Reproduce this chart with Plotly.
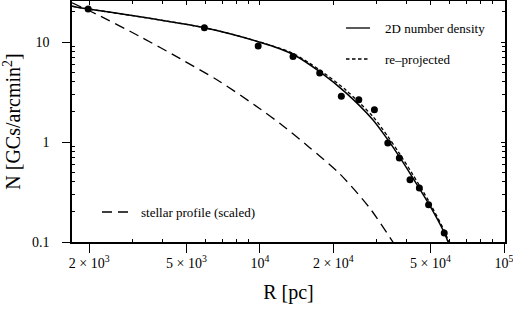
import plotly.graph_objects as go
import numpy as np

# ---- data ----
# globular-cluster counts (points)
gc_R = [1980, 5925, 9840, 13670, 17580, 21560, 25420, 29450, 33420, 37250, 41200, 45000, 49100, 56900]
gc_N = [21.4, 13.9, 9.12, 7.18, 4.9, 2.86, 2.65, 2.10, 0.977, 0.69, 0.42, 0.347, 0.236, 0.123]

# 2D number density fit (solid)
fit_R = [1701, 1980, 2948, 4293, 5925, 7544, 9842, 12067, 13765, 17577, 22590, 29010, 33400, 37270, 42240, 49410, 56900, 59080, 60760]
fit_N = [22.8, 21.4, 18.5, 15.96, 13.9, 12.1, 10.07, 8.57, 7.46, 5.05, 3.08, 1.67, 1.055, 0.713, 0.44, 0.236, 0.124, 0.0995, 0.0877]

# re-projected profile (short dashes)
rep_R = [1701, 1980, 2948, 4293, 5925, 7544, 9842, 12067, 13765, 17577, 22590, 29010, 33400, 37270, 42240, 49410, 56900, 59080, 60760]
rep_N = [22.8, 21.4, 18.5, 15.96, 13.9, 12.1, 10.1, 8.65, 7.64, 5.25, 3.28, 1.80, 1.14, 0.77, 0.475, 0.251, 0.13, 0.104, 0.091]

# stellar profile, scaled (long dashes)
star_R = [1701, 2161, 3237, 4716, 6865, 10000, 12415, 16000, 21210, 28120, 34990, 37240]
star_N = [24.7, 18.75, 11.3, 6.81, 4.01, 2.15, 1.456, 0.877, 0.482, 0.220, 0.1007, 0.080]

x_tickvals = [2000, 5000, 10000, 20000, 50000, 100000]
x_ticktext = ["2 × 10<sup>3</sup>", "5 × 10<sup>3</sup>", "10<sup>4</sup>",
              "2 × 10<sup>4</sup>", "5 × 10<sup>4</sup>", "10<sup>5</sup>"]
x_minor = [3000, 4000, 6000, 7000, 8000, 9000, 30000, 40000, 60000, 70000, 80000, 90000]
y_tickvals = [0.1, 1, 10]
y_ticktext = ["0.1", "1", "10"]
y_minor = [0.2, 0.3, 0.4, 0.5, 0.6, 0.7, 0.8, 0.9, 2, 3, 4, 5, 6, 7, 8, 9, 20]

FONT = "Liberation Serif, Times New Roman, DejaVu Serif, serif"
xr = [np.log10(1700), 5.004]
yr = [-1.0, 1.41]

fig = go.Figure()
fig.add_trace(go.Scatter(x=star_R, y=star_N, mode="lines", line=dict(color="black", width=1.3, dash="10px,6px", shape="spline", smoothing=0.8), hoverinfo="skip"))
fig.add_trace(go.Scatter(x=rep_R, y=rep_N, mode="lines", line=dict(color="black", width=1.3, dash="3.5px,2.5px", shape="spline", smoothing=0.8), hoverinfo="skip"))
fig.add_trace(go.Scatter(x=fit_R, y=fit_N, mode="lines", line=dict(color="black", width=1.5, shape="spline", smoothing=0.8), hoverinfo="skip"))
fig.add_trace(go.Scatter(x=gc_R, y=gc_N, mode="markers", marker=dict(color="black", size=7)))
# invisible trace to activate mirror axes
fig.add_trace(go.Scatter(x=gc_R, y=gc_N, mode="markers", marker=dict(opacity=0), xaxis="x2", yaxis="y2", hoverinfo="skip"))

common = dict(showgrid=False, zeroline=False, linecolor="black", linewidth=1.5, mirror=True)
fig.update_layout(
    width=513, height=311,
    margin=dict(l=72, r=8, t=1, b=69),
    plot_bgcolor="white", paper_bgcolor="white",
    showlegend=False,
    font=dict(family=FONT, color="black", size=13),
    xaxis=dict(type="log", range=xr, tickmode="array", tickvals=x_tickvals, ticktext=x_ticktext,
               ticks="outside", ticklen=9, tickwidth=1, tickcolor="black", ticklabeloverflow="allow",
               ticklabelstandoff=-2,
               tickfont=dict(family=FONT, size=14),
               minor=dict(tickmode="array", tickvals=x_minor, ticks="inside", ticklen=3, tickcolor="black", tickwidth=1),
               title=dict(text="R [pc]", font=dict(size=20, family=FONT), standoff=15),
               automargin=False, **common),
    yaxis=dict(type="log", range=yr, tickmode="array", tickvals=y_tickvals, ticktext=y_ticktext,
               ticks="outside", ticklen=8, tickwidth=1, tickcolor="black", ticklabelstandoff=10,
               tickfont=dict(family=FONT, size=14),
               minor=dict(tickmode="array", tickvals=y_minor, ticks="inside", ticklen=3, tickcolor="black", tickwidth=1),
               title=dict(text="N [GCs/arcmin<sup>2</sup>]", font=dict(size=20, family=FONT), standoff=22),
               automargin=False, **common),
    xaxis2=dict(type="log", range=xr, overlaying="x", side="top", anchor="y", showticklabels=False,
                tickmode="array", tickvals=x_tickvals, ticks="inside", ticklen=4, tickcolor="black",
                minor=dict(tickmode="array", tickvals=x_minor, ticks="inside", ticklen=3, tickcolor="black"),
                showgrid=False, zeroline=False, showline=False, automargin=False),
    yaxis2=dict(type="log", range=yr, overlaying="y", side="right", anchor="x", showticklabels=False,
                tickmode="array", tickvals=y_tickvals, ticks="inside", ticklen=4, tickcolor="black",
                minor=dict(tickmode="array", tickvals=y_minor, ticks="inside", ticklen=3, tickcolor="black"),
                showgrid=False, zeroline=False, showline=False, automargin=False),
)

# legend drawn manually
legend_items = [
    ("2D number density", "solid", 346, 370, 383, 28),
    ("re–projected", "3.5px,2.5px", 346, 370, 383, 59),
    ("stellar profile (scaled)", "10px,6px", 102, 128, 139, 212),
]
for text, dash, x0, x1, tx, ty in legend_items:
    xs = (x0 - 72) / 433.0
    xe = (x1 - 72) / 433.0
    yp = 1 - (ty - 1) / 241.0
    fig.add_shape(type="line", xref="paper", yref="paper", x0=xs, x1=xe, y0=yp, y1=yp,
                  line=dict(color="black", width=1.3, dash=dash))
    fig.add_annotation(xref="paper", yref="paper", x=(tx - 72) / 433.0, y=yp, text=text,
                       showarrow=False, xanchor="left", yanchor="middle", font=dict(size=13, family=FONT))

fig.write_html("out.html", config={"displayModeBar": False},
               post_script="document.body.style.margin='0';document.body.style.overflow='hidden';")
